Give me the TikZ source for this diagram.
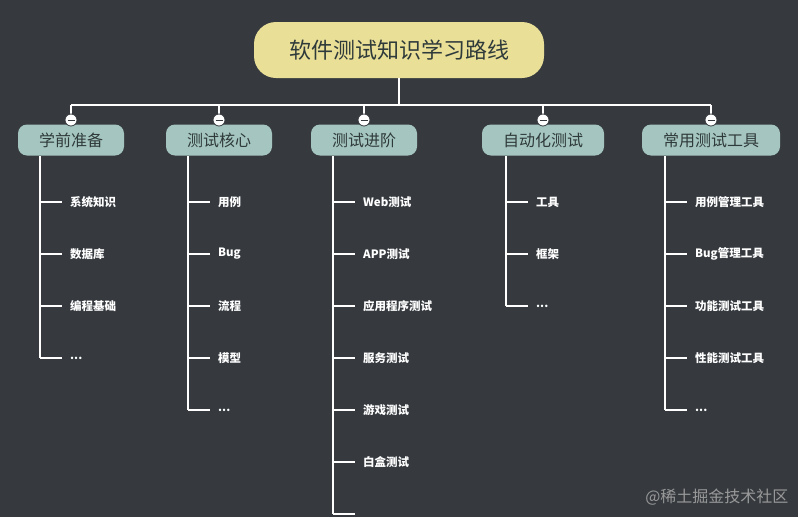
\documentclass[tikz,border=0pt]{standalone}
\usepackage{fontspec}
\newfontfamily\cjk{Noto Sans CJK SC}
\definecolor{bg}{HTML}{363A3F}
\definecolor{rootc}{HTML}{E9DF97}
\definecolor{brc}{HTML}{A5C6C0}
\definecolor{txt}{HTML}{2F3A3A}
\newcommand\mydots{...}
\newcommand\myempty{\mbox{}}
\begin{document}
\begin{tikzpicture}[x=1pt,y=-1pt,
  root/.style={fill=rootc,rounded corners=22pt,minimum width=290pt,minimum height=56pt,font=\cjk\fontsize{22}{26}\selectfont,text=txt},
  br/.style={fill=brc,rounded corners=9pt,minimum height=31pt,inner xsep=21pt,font=\cjk\fontsize{16}{19}\selectfont,text=txt},
  leaf/.style={anchor=west,text=white,font=\cjk\bfseries\fontsize{11.5}{14}\selectfont,inner sep=0pt},
  ln/.style={draw=white,line width=2.2pt},
  tog/.style={circle,fill=white,draw=bg,line width=0.8pt,minimum size=12pt,inner sep=0pt}]
\fill[bg] (0,0) rectangle (798,517);
\useasboundingbox (0,0) rectangle (798,517);
\node[root] (r) at (399,50) {软件测试知识学习路线};
\coordinate (j) at (399,105);
\draw[ln] (r.south) -- (j);
\draw[ln] (71,105) -- (711,105);
\foreach \name/\bx/\lx/\lab/\n/\items in {
  a/71/40/学前准备/4/{系统知识,数据库,编程基础,\mydots},
  b/219/188/测试核心/5/{用例,Bug,流程,模型,\mydots},
  c/364/333/测试进阶/7/{Web测试,APP测试,应用程序测试,服务测试,游戏测试,白盒测试,\myempty},
  d/543/506/自动化测试/3/{工具,框架,\mydots},
  e/711/665/常用测试工具/5/{用例管理工具,Bug管理工具,功能测试工具,性能测试工具,\mydots}}{
  \node[br] (\name) at (\bx,140) {\lab};
  \coordinate (\name top) at (\bx,105);
  \draw[ln] (\name top) -- (\name.north);
  \node[tog] (\name t) at (\bx,120) {};
  \draw[bg,line width=1pt] ([xshift=-3.5pt]\name t.center) -- ([xshift=3.5pt]\name t.center);
  \foreach \it [count=\k] in \items {
    \coordinate (\name l\k) at (\lx,150+52*\k);
    \coordinate (\name e\k) at (\lx+22,150+52*\k);
    \draw[ln] (\name l\k) -- (\name e\k);
    \node[leaf] (\name n\k) at (\lx+30,150+52*\k) {\it};
  }
  \coordinate (\name s) at (\lx,156);
  \draw[ln] (\name s) -- (\name l\n);
}
\node[text=gray!80,font=\cjk\fontsize{16}{18}\selectfont,anchor=east] (wm) at (792,497) {@稀土掘金技术社区};
\end{tikzpicture}
\end{document}
